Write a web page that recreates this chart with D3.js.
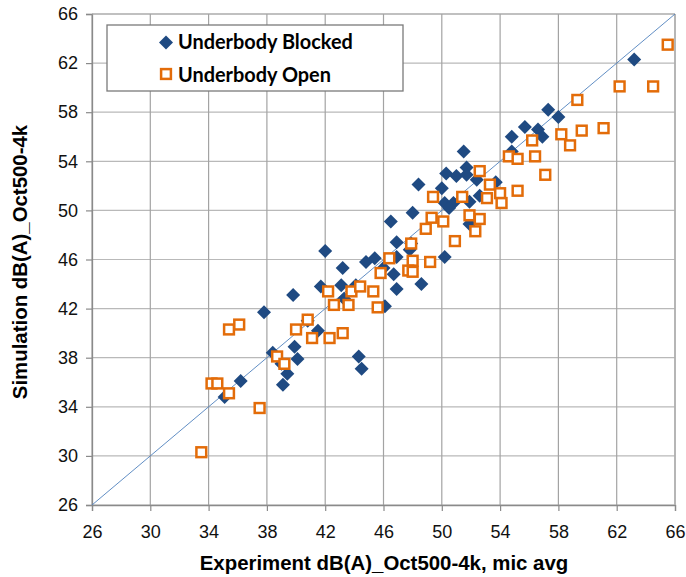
<!DOCTYPE html>
<html><head><meta charset="utf-8">
<script src="https://cdn.jsdelivr.net/npm/d3@7"></script>
<style>body{margin:0;background:#fff}svg{display:block}</style>
</head><body>
<svg id="c" width="686" height="577"></svg>
<script>
const xTicks = [26,30,34,38,42,46,50,54,58,62,66];
const yTicks = [26,30,34,38,42,46,50,54,58,62,66];
const seriesNames = ["Underbody Blocked","Underbody Open"];
const xTitle = "Experiment dB(A)_Oct500-4k, mic avg";
const yTitle = "Simulation dB(A)_Oct500-4k";
const blockedX = [63.2,57.3,58.0,55.7,54.8,56.6,56.9,51.5,54.8,50.3,51.0,51.7,51.7,52.4,53.7,48.4,50.0,52.6,51.9,50.2,50.8,50.5,48.0,46.5,51.9,46.9,47.9,47.8,46.9,50.2,45.4,44.8,46.0,46.7,43.2,48.6,46.9,46.1,42.0,41.7,43.1,44.1,43.3,39.8,37.8,40.8,41.5,38.4,39.9,40.1,39.0,39.4,39.1,44.3,44.5,36.2,35.1];
const blockedY = [62.3,58.2,57.6,56.8,56.0,56.6,56.0,54.8,54.8,53.0,52.8,53.5,52.9,52.5,52.3,52.1,51.8,51.2,50.7,50.6,50.6,50.2,49.8,49.1,48.9,47.4,47.3,46.8,46.2,46.2,46.1,45.8,45.3,44.8,45.3,44.0,43.6,42.2,46.7,43.8,43.9,43.9,42.8,43.1,41.7,41.0,40.2,38.4,38.9,37.9,37.5,36.7,35.8,38.1,37.1,36.1,34.8];
const openX = [65.5,62.2,64.5,59.3,61.1,59.6,58.2,58.8,56.2,54.6,55.2,56.4,57.1,52.6,53.3,54.0,55.2,53.1,54.1,51.4,51.9,52.6,50.1,52.3,50.9,49.4,49.3,48.9,47.9,46.4,48.0,49.2,47.7,48.0,45.8,45.3,45.6,42.2,43.8,44.4,42.6,43.6,40.8,40.0,41.1,42.3,43.2,35.4,36.1,38.7,39.2,34.2,34.6,35.4,37.5,33.5];
const openY = [63.5,60.1,60.1,59.0,56.7,56.5,56.2,55.3,55.7,54.4,54.2,54.4,52.9,53.2,52.1,51.4,51.6,51.0,50.6,51.1,49.6,49.3,49.1,48.3,47.5,51.1,49.4,48.5,47.3,46.1,45.9,45.8,45.1,45.0,44.9,43.4,42.1,43.4,43.4,43.8,42.3,42.3,41.1,40.3,39.6,39.6,40.0,40.3,40.7,38.1,37.5,35.9,35.9,35.1,33.9,30.3];
const refLine = [26,66];

const svg = d3.select("#c");
const L=92, R=675, T=14, B=505;
const x = d3.scaleLinear().domain([26,66]).range([L,R]);
const y = d3.scaleLinear().domain([26,66]).range([B,T]);

// grid
svg.append("g").selectAll("line").data(yTicks).join("line")
  .attr("x1",L).attr("x2",R).attr("y1",d=>y(d)).attr("y2",d=>y(d))
  .attr("stroke","#b9b9b9").attr("stroke-width",1.2);
svg.append("g").selectAll("line").data(xTicks).join("line")
  .attr("y1",T).attr("y2",B).attr("x1",d=>x(d)).attr("x2",d=>x(d))
  .attr("stroke","#a3a3a3").attr("stroke-width",1.2);

// axes
const xAxis = svg.append("g").attr("transform",`translate(0,${B})`)
  .call(d3.axisBottom(x).tickValues(xTicks).tickSize(6).tickPadding(14).tickFormat(d3.format("d")));
const yAxis = svg.append("g").attr("transform",`translate(${L},0)`)
  .call(d3.axisLeft(y).tickValues(yTicks).tickSize(6).tickPadding(8).tickFormat(d3.format("d")));
[xAxis,yAxis].forEach(a=>{
  a.select(".domain").attr("stroke","#8a8a8a").attr("stroke-width",1.3);
  a.selectAll(".tick line").attr("stroke","#8a8a8a").attr("stroke-width",1.2);
  a.selectAll(".tick text").attr("font-family","'Liberation Sans', Arial, sans-serif")
    .attr("font-size",18).attr("fill","#111");
});
xAxis.selectAll(".tick text").attr("dy","0.71em");
svg.append("line").attr("x1",R).attr("x2",R).attr("y1",T).attr("y2",B).attr("stroke","#b0b0b0").attr("stroke-width",1.5);
svg.append("line").attr("x1",L).attr("x2",R).attr("y1",T).attr("y2",T).attr("stroke","#a3a3a3").attr("stroke-width",1.2);

// reference line
svg.append("line").attr("x1",x(refLine[0])).attr("y1",y(refLine[0])).attr("x2",x(refLine[1])).attr("y2",y(refLine[1]))
  .attr("stroke","#4f81bd").attr("stroke-width",0.9);

const blue="#1f4a82", orange="#e36c09";
const diamond = d3.symbol().type(d3.symbolSquare).size(98);
svg.append("g").selectAll("path").data(blockedX.map((v,i)=>[v,blockedY[i]])).join("path")
  .attr("d",diamond()).attr("fill",blue)
  .attr("transform",d=>`translate(${x(d[0])},${y(d[1])}) rotate(45)`);
svg.append("g").selectAll("rect").data(openX.map((v,i)=>[v,openY[i]])).join("rect")
  .attr("x",d=>x(d[0])-4.9).attr("y",d=>y(d[1])-4.9).attr("width",9.8).attr("height",9.8)
  .attr("fill","#fff").attr("stroke",orange).attr("stroke-width",2.5);

// legend
const lg = svg.append("g");
lg.append("rect").attr("x",107).attr("y",25).attr("width",296).attr("height",66)
  .attr("fill","#fff").attr("stroke","#7a7a7a").attr("stroke-width",1.3);
lg.append("path").attr("d",diamond()).attr("fill",blue).attr("transform","translate(166,42.5) rotate(45)");
lg.append("rect").attr("x",166-4.9).attr("y",74-4.9).attr("width",9.8).attr("height",9.8)
  .attr("fill","#fff").attr("stroke",orange).attr("stroke-width",2.5);
function fit(t,w){const n=t.node();const l=n.getComputedTextLength();const fs=+t.attr("font-size");t.attr("font-size",fs*w/l);}
const lt1 = lg.append("text").attr("x",178).attr("y",49).text(seriesNames[0])
  .attr("font-family","Lato, 'Noto Sans', sans-serif").attr("font-weight","bold").attr("font-size",18).attr("fill","#000");
fit(lt1,175);
const lt2 = lg.append("text").attr("x",178).attr("y",81.5).text(seriesNames[1])
  .attr("font-family","Lato, 'Noto Sans', sans-serif").attr("font-weight","bold").attr("font-size",+lt1.attr("font-size")).attr("fill","#000");

// titles
const xt = svg.append("text").attr("x",384).attr("y",569.5).attr("text-anchor","middle").text(xTitle)
  .attr("font-family","'Liberation Sans', Arial, sans-serif").attr("font-weight","bold").attr("font-size",20).attr("fill","#000");
fit(xt,369);
const yt = svg.append("text").attr("transform","translate(27,262) rotate(-90)").attr("text-anchor","middle").text(yTitle)
  .attr("font-family","'Liberation Sans', Arial, sans-serif").attr("font-weight","bold").attr("font-size",+xt.attr("font-size")).attr("fill","#000");
</script>
</body></html>
